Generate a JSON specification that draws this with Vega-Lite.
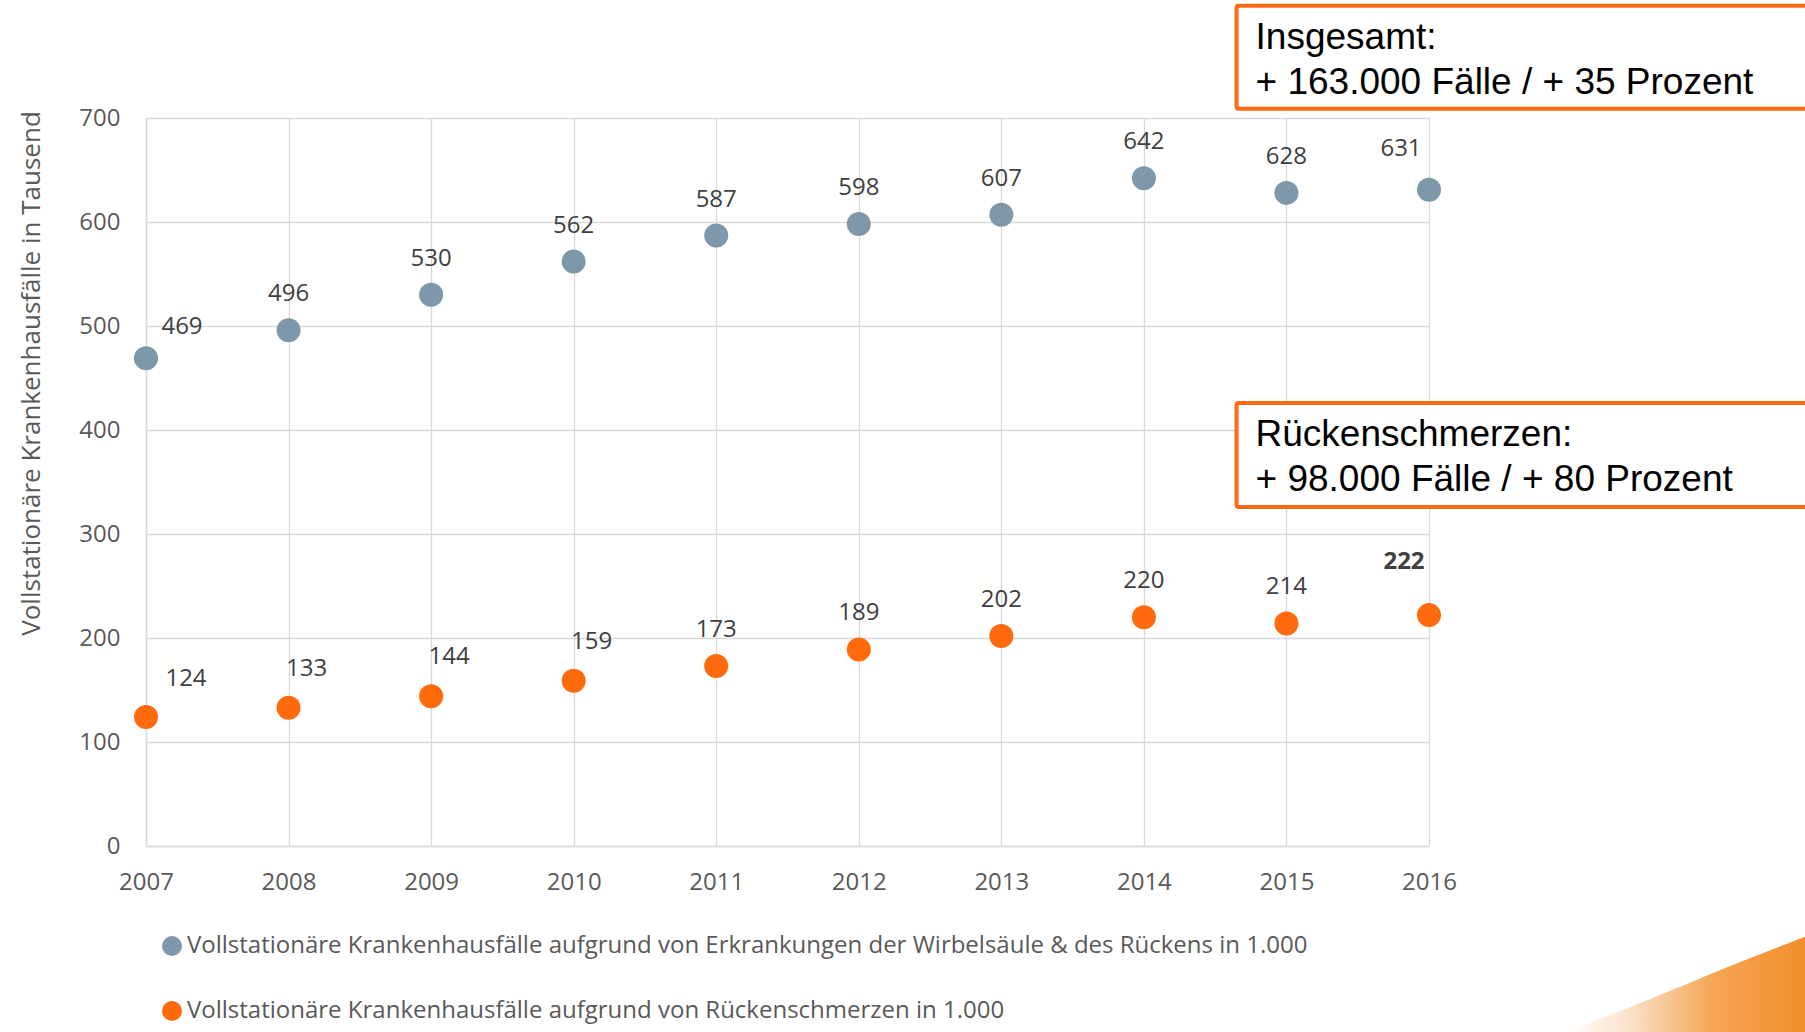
{
  "$schema": "https://vega.github.io/schema/vega-lite/v6.json",
  "autosize": {"type": "none"},
  "padding": {"left": 146, "top": 118, "right": 376, "bottom": 186},
  "width": 1283,
  "height": 728,
  "background": "white",
  "config": {
    "view": {"stroke": null},
    "font": "Open Sans"
  },
  "datasets": {
    "points": [
      {"year": 2007, "series": "Vollstationäre Krankenhausfälle aufgrund von Erkrankungen der Wirbelsäule & des Rückens in 1.000", "value": 469},
      {"year": 2008, "series": "Vollstationäre Krankenhausfälle aufgrund von Erkrankungen der Wirbelsäule & des Rückens in 1.000", "value": 496},
      {"year": 2009, "series": "Vollstationäre Krankenhausfälle aufgrund von Erkrankungen der Wirbelsäule & des Rückens in 1.000", "value": 530},
      {"year": 2010, "series": "Vollstationäre Krankenhausfälle aufgrund von Erkrankungen der Wirbelsäule & des Rückens in 1.000", "value": 562},
      {"year": 2011, "series": "Vollstationäre Krankenhausfälle aufgrund von Erkrankungen der Wirbelsäule & des Rückens in 1.000", "value": 587},
      {"year": 2012, "series": "Vollstationäre Krankenhausfälle aufgrund von Erkrankungen der Wirbelsäule & des Rückens in 1.000", "value": 598},
      {"year": 2013, "series": "Vollstationäre Krankenhausfälle aufgrund von Erkrankungen der Wirbelsäule & des Rückens in 1.000", "value": 607},
      {"year": 2014, "series": "Vollstationäre Krankenhausfälle aufgrund von Erkrankungen der Wirbelsäule & des Rückens in 1.000", "value": 642},
      {"year": 2015, "series": "Vollstationäre Krankenhausfälle aufgrund von Erkrankungen der Wirbelsäule & des Rückens in 1.000", "value": 628},
      {"year": 2016, "series": "Vollstationäre Krankenhausfälle aufgrund von Erkrankungen der Wirbelsäule & des Rückens in 1.000", "value": 631},
      {"year": 2007, "series": "Vollstationäre Krankenhausfälle aufgrund von Rückenschmerzen in 1.000", "value": 124},
      {"year": 2008, "series": "Vollstationäre Krankenhausfälle aufgrund von Rückenschmerzen in 1.000", "value": 133},
      {"year": 2009, "series": "Vollstationäre Krankenhausfälle aufgrund von Rückenschmerzen in 1.000", "value": 144},
      {"year": 2010, "series": "Vollstationäre Krankenhausfälle aufgrund von Rückenschmerzen in 1.000", "value": 159},
      {"year": 2011, "series": "Vollstationäre Krankenhausfälle aufgrund von Rückenschmerzen in 1.000", "value": 173},
      {"year": 2012, "series": "Vollstationäre Krankenhausfälle aufgrund von Rückenschmerzen in 1.000", "value": 189},
      {"year": 2013, "series": "Vollstationäre Krankenhausfälle aufgrund von Rückenschmerzen in 1.000", "value": 202},
      {"year": 2014, "series": "Vollstationäre Krankenhausfälle aufgrund von Rückenschmerzen in 1.000", "value": 220},
      {"year": 2015, "series": "Vollstationäre Krankenhausfälle aufgrund von Rückenschmerzen in 1.000", "value": 214},
      {"year": 2016, "series": "Vollstationäre Krankenhausfälle aufgrund von Rückenschmerzen in 1.000", "value": 222}
    ],
    "boxes": [
      {"x1": 2014.65, "x2": 2019.5, "y1": 709, "y2": 808, "text": ["Insgesamt:", "+ 163.000 Fälle / + 35 Prozent"]},
      {"x1": 2014.65, "x2": 2019.5, "y1": 326, "y2": 426, "text": ["Rückenschmerzen:", "+ 98.000 Fälle / + 80 Prozent"]}
    ],
    "swoosh": [
      {"x": 2016.95, "top": -180, "bottom": -200},
      {"x": 2017.5, "top": -150, "bottom": -200},
      {"x": 2018.1, "top": -116, "bottom": -200},
      {"x": 2018.7, "top": -84, "bottom": -200}
    ]
  },
  "layer": [
    {
      "data": {"name": "swoosh"},
      "mark": {
        "type": "area", "clip": false, "interpolate": "monotone",
        "color": {"gradient": "linear", "x1": 0, "y1": 0, "x2": 1, "y2": 0,
          "stops": [{"offset": 0, "color": "#ffffff"}, {"offset": 0.25, "color": "#fbe3cc"}, {"offset": 0.6, "color": "#f4a552"}, {"offset": 1, "color": "#f28c28"}]}
      },
      "encoding": {
        "x": {"field": "x", "type": "quantitative"},
        "y": {"field": "top", "type": "quantitative"},
        "y2": {"field": "bottom"}
      }
    },
    {
      "data": {"name": "points"},
      "mark": {"type": "circle", "size": 576, "opacity": 1},
      "encoding": {
        "x": {
          "field": "year", "type": "quantitative",
          "scale": {"domain": [2007, 2016], "nice": false, "zero": false},
          "axis": {
            "title": null, "format": "d", "values": [2007, 2008, 2009, 2010, 2011, 2012, 2013, 2014, 2015, 2016],
            "grid": true, "gridColor": "#d9d9d9", "gridWidth": 1.3,
            "domainColor": "#d9d9d9", "domainWidth": 1.3, "ticks": false, "labelFlush": false,
            "labelFontSize": 24, "labelColor": "#595959", "labelPadding": 24
          }
        },
        "y": {
          "field": "value", "type": "quantitative",
          "scale": {"domain": [0, 700], "nice": false},
          "axis": {
            "title": "Vollstationäre Krankenhausfälle in Tausend",
            "titleFontSize": 26, "titleFontWeight": "normal", "titleColor": "#595959",
            "titleX": -115, "titleY": 255, "titleAngle": -90, "titleAlign": "center", "titleBaseline": "middle",
            "values": [0, 100, 200, 300, 400, 500, 600, 700],
            "grid": true, "gridColor": "#d9d9d9", "gridWidth": 1.3,
            "domainColor": "#d9d9d9", "domainWidth": 1.3, "ticks": false, "labelFlush": false,
            "labelFontSize": 24, "labelColor": "#595959", "labelPadding": 26
          }
        },
        "color": {
          "field": "series", "type": "nominal",
          "scale": {
            "domain": ["Vollstationäre Krankenhausfälle aufgrund von Erkrankungen der Wirbelsäule & des Rückens in 1.000", "Vollstationäre Krankenhausfälle aufgrund von Rückenschmerzen in 1.000"],
            "range": ["#7d98aa", "#ff6a0d"]
          },
          "legend": {
            "title": null, "orient": "none", "legendX": 14, "legendY": 816, "direction": "vertical",
            "symbolType": "circle", "symbolSize": 400, "symbolOpacity": 1, "symbolStrokeWidth": 0,
            "labelFontSize": 24, "labelColor": "#595959", "labelLimit": 1500, "labelOffset": 3,
            "rowPadding": 41
          }
        }
      }
    },
    {
      "data": {"name": "points"},
      "transform": [{"filter": "!((datum.year == 2007) || (datum.year == 2016) || (datum.value < 170 && datum.year <= 2010))"}],
      "mark": {"type": "text", "dy": -36, "fontSize": 24, "color": "#404040", "baseline": "middle", "align": "center"},
      "encoding": {
        "x": {"field": "year", "type": "quantitative"},
        "y": {"field": "value", "type": "quantitative"},
        "text": {"field": "value", "type": "quantitative"}
      }
    },
    {
      "data": {"name": "points"},
      "transform": [{"filter": "datum.year == 2007 && datum.value > 300"}],
      "mark": {"type": "text", "dx": 36, "dy": -31, "fontSize": 24, "color": "#404040", "baseline": "middle", "align": "center"},
      "encoding": {
        "x": {"field": "year", "type": "quantitative"},
        "y": {"field": "value", "type": "quantitative"},
        "text": {"field": "value", "type": "quantitative"}
      }
    },
    {
      "data": {"name": "points"},
      "transform": [{"filter": "datum.year == 2016 && datum.value > 300"}],
      "mark": {"type": "text", "dx": -28, "dy": -41, "fontSize": 24, "color": "#404040", "baseline": "middle", "align": "center"},
      "encoding": {
        "x": {"field": "year", "type": "quantitative"},
        "y": {"field": "value", "type": "quantitative"},
        "text": {"field": "value", "type": "quantitative"}
      }
    },
    {
      "data": {"name": "points"},
      "transform": [{"filter": "datum.year == 2007 && datum.value < 300"}],
      "mark": {"type": "text", "dx": 40, "dy": -38, "fontSize": 24, "color": "#404040", "baseline": "middle", "align": "center"},
      "encoding": {
        "x": {"field": "year", "type": "quantitative"},
        "y": {"field": "value", "type": "quantitative"},
        "text": {"field": "value", "type": "quantitative"}
      }
    },
    {
      "data": {"name": "points"},
      "transform": [{"filter": "datum.year >= 2008 && datum.year <= 2010 && datum.value < 300"}],
      "mark": {"type": "text", "dx": 18, "dy": -39, "fontSize": 24, "color": "#404040", "baseline": "middle", "align": "center"},
      "encoding": {
        "x": {"field": "year", "type": "quantitative"},
        "y": {"field": "value", "type": "quantitative"},
        "text": {"field": "value", "type": "quantitative"}
      }
    },
    {
      "data": {"name": "points"},
      "transform": [{"filter": "datum.year == 2016 && datum.value < 300"}],
      "mark": {"type": "text", "dx": -25, "dy": -53, "fontSize": 24, "fontWeight": "bold", "color": "#404040", "baseline": "middle", "align": "center"},
      "encoding": {
        "x": {"field": "year", "type": "quantitative"},
        "y": {"field": "value", "type": "quantitative"},
        "text": {"field": "value", "type": "quantitative"}
      }
    },
    {
      "data": {"name": "boxes"},
      "mark": {"type": "rect", "fill": "white", "stroke": "#ff6a13", "strokeWidth": 4, "cornerRadius": 2, "clip": false},
      "encoding": {
        "x": {"field": "x1", "type": "quantitative"},
        "x2": {"field": "x2"},
        "y": {"field": "y1", "type": "quantitative"},
        "y2": {"field": "y2"}
      }
    },
    {
      "data": {"name": "boxes"},
      "mark": {"type": "text", "font": "Liberation Sans", "fontSize": 37, "color": "black", "align": "left", "baseline": "alphabetic", "dx": 19, "dy": 43, "lineHeight": 45},
      "encoding": {
        "x": {"field": "x1", "type": "quantitative"},
        "y": {"field": "y2", "type": "quantitative"},
        "text": {"field": "text"}
      }
    }
  ]
}
